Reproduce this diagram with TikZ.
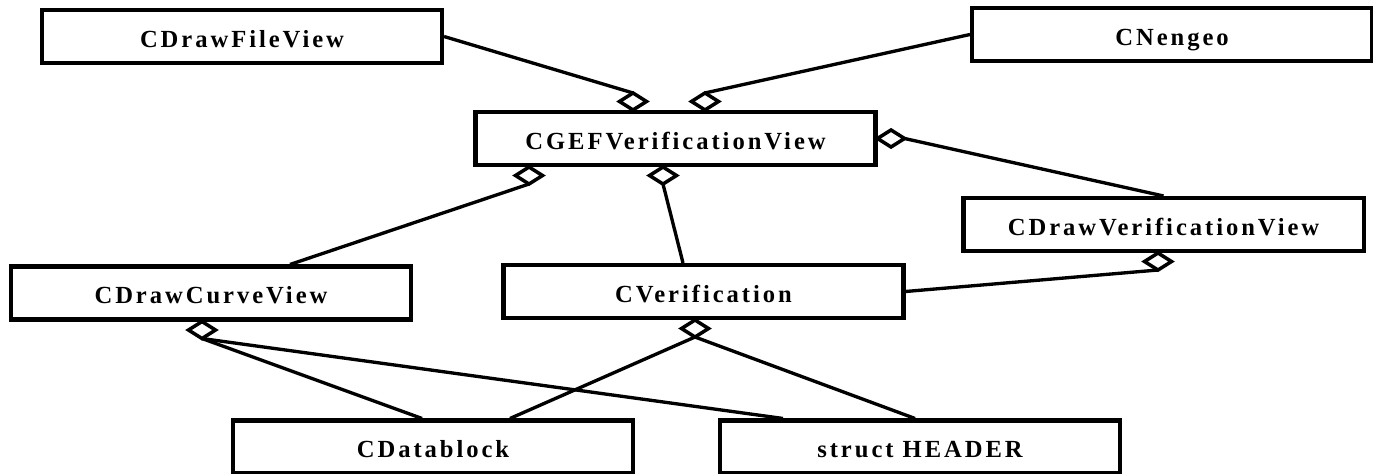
\documentclass[tikz,border=0pt]{standalone}
\usepackage{fontspec}
\setmainfont{Liberation Serif}
\newfontfamily\clsfont{Liberation Serif}[LetterSpace=12]
\usetikzlibrary{shapes.geometric}

\begin{document}
\begin{tikzpicture}[every node/.style={font=\clsfont\bfseries\fontsize{14}{16}\selectfont},
  cls/.style={draw, rectangle, line width=2.3pt, minimum width=8cm, minimum height=1.06cm, inner sep=0pt, text height=12.2pt, text depth=0pt},
  agg/.style={draw, diamond, line width=2pt, minimum width=0.54cm, minimum height=0.34cm, inner sep=0pt, outer sep=0pt},
  wire/.style={line width=1.9pt}]
  \useasboundingbox (0,0) rectangle (27.46,-9.48);

  % Boxes
  \node[cls] (fv)   at (4.84,-0.73)  {CDrawFileView};
  \node[cls] (ng)   at (23.44,-0.69) {CNengeo};
  \node[cls] (gef)  at (13.51,-2.77) {CGEFVerificationView};
  \node[cls] (dvv)  at (23.27,-4.49) {CDrawVerificationView};
  \node[cls] (dcv)  at (4.22,-5.86)  {CDrawCurveView};
  \node[cls] (ver)  at (14.07,-5.83) {CVerification};
  \node[cls] (dblk) at (8.66,-8.94)  {CDatablock};
  \node[cls] (hdr)  at (18.40,-8.94) {struct HEADER};

  % Diamonds
  \node[agg, anchor=south] (d1) at ([xshift=-0.85cm]gef.north) {};
  \node[agg, anchor=south] (d2) at ([xshift=0.59cm]gef.north) {};
  \node[agg, anchor=west]  (d3) at (gef.east) {};
  \node[agg, anchor=north] (d4) at ([xshift=-2.93cm]gef.south) {};
  \node[agg, anchor=north] (d5) at ([xshift=-0.25cm]gef.south) {};
  \node[agg, anchor=north] (d6) at ([xshift=-0.11cm]dvv.south) {};
  \node[agg, anchor=north] (d7) at ([xshift=-0.18cm]dcv.south) {};
  \node[agg, anchor=north] (d8) at ([xshift=-0.17cm]ver.south) {};

  % Wires
  \draw[wire] (fv.east) -- (d1.north);
  \draw[wire] (ng.west) -- (d2.north);
  \draw[wire] (dvv.north) -- (d3.east);
  \draw[wire] ([xshift=1.58cm]dcv.north) -- (d4.south);
  \draw[wire] ([xshift=-0.41cm]ver.north) -- (d5.south);
  \draw[wire] (ver.east) -- (d6.south);
  \draw[wire] (d7.south) -- ([xshift=-0.22cm]dblk.north);
  \draw[wire] (d7.south) -- ([xshift=-2.74cm]hdr.north);
  \draw[wire] (d8.south) -- ([xshift=1.54cm]dblk.north);
  \draw[wire] (d8.south) -- ([xshift=-0.1cm]hdr.north);
\end{tikzpicture}
\end{document}
